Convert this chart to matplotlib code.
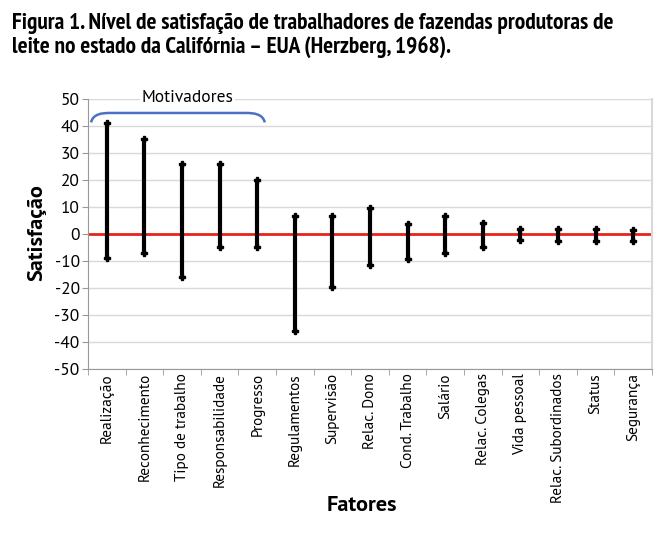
import matplotlib
matplotlib.use("Agg")
import matplotlib.pyplot as plt
from matplotlib import font_manager
from matplotlib.path import Path
from matplotlib.patches import PathPatch

categories = ["Realização", "Reconhecimento", "Tipo de trabalho", "Responsabilidade",
              "Progresso", "Regulamentos", "Supervisão", "Relac. Dono", "Cond. Trabalho",
              "Salário", "Relac. Colegas", "Vida pessoal", "Relac. Subordinados",
              "Status", "Segurança"]
high = [41, 35, 26, 26, 20, 6.5, 6.5, 9.6, 3.6, 6.5, 4, 2, 2, 2, 1.4]
low = [-9, -7, -16, -5, -5, -36, -19.5, -11.4, -9.3, -6.9, -5, -2.4, -2.6, -2.6, -2.6]
yticks = list(range(-50, 51, 10))

available = {f.name for f in font_manager.fontManager.ttflist}

def pick(cands):
    for c in cands:
        if c in available:
            return [c, "DejaVu Sans"]
    return ["DejaVu Sans"]

cond = pick(["PT Sans Narrow", "Open Sans Condensed", "Roboto Condensed", "Fira Sans Condensed",
             "IBM Plex Sans Condensed", "Archivo Narrow", "Asap Condensed", "Encode Sans Condensed",
             "Liberation Sans Narrow"])
body = pick(["PT Sans", "Open Sans", "Lato", "DejaVu Sans"])

fig = plt.figure(figsize=(6.62, 5.37), dpi=100)
ax = fig.add_axes([0.133, 0.3128, 0.852, 0.503])

x = list(range(len(categories)))
ax.vlines(x, low, high, color="black", lw=3, zorder=3)
ax.plot(x, high, ls="none", marker="P", ms=5, color="black", zorder=4)
ax.plot(x, low, ls="none", marker="P", ms=5, color="black", zorder=4)
ax.axhline(0, color="#e8231c", lw=2, zorder=2)

ax.set_xlim(-0.5, len(categories) - 0.5)
ax.set_ylim(-50, 50)
ax.set_yticks(yticks)
ax.set_yticklabels([str(v) for v in yticks], fontsize=12.5, family=body)
ax.set_xticks(x)
ax.set_xticklabels(categories, rotation=90, fontsize=11, family=body)
ax.tick_params(axis="x", length=0, pad=3)
ax.set_xticks([i - 0.5 for i in range(len(categories) + 1)], minor=True)
ax.tick_params(axis="x", which="minor", length=4, color="#999999")
ax.tick_params(axis="y", length=4, color="#999999", pad=2)
ax.grid(axis="y", color="#d9d9d9", lw=1, zorder=0)
for s in ["left", "bottom"]:
    ax.spines[s].set_color("#999999")
ax.spines["right"].set_color("#d9d9d9")
ax.spines["right"].set_linewidth(1.5)
ax.spines["top"].set_visible(False)

ax.set_ylabel("Satisfação", fontsize=16, fontweight="bold", family=body)
ax.yaxis.set_label_coords(-0.074, 0.504)
ax.set_xlabel("Fatores", fontsize=16, fontweight="bold", family=body)
ax.xaxis.set_label_coords(0.486, -0.504)
ax.xaxis.label.set_va("center")

# bracket
x0, x1, yt, ye = -0.42, 4.2, 44.8, 41.3
verts = [(x0, ye), (x0 + 0.05, yt - 0.3), (x0 + 0.3, yt), (x0 + 0.5, yt),
         (x1 - 0.5, yt), (x1 - 0.3, yt), (x1 - 0.05, yt - 0.3), (x1, ye)]
codes = [Path.MOVETO, Path.CURVE4, Path.CURVE4, Path.CURVE4,
         Path.LINETO, Path.CURVE4, Path.CURVE4, Path.CURVE4]
ax.add_patch(PathPatch(Path(verts, codes), fill=False, edgecolor="#4a72c4", lw=1.8,
                       clip_on=False, zorder=5))
ax.text(2.15, 50.5, "Motivadores", ha="center", va="center", fontsize=12.5,
        family=body, bbox=dict(facecolor="white", edgecolor="none", pad=1), zorder=5)

fig.text(0.018, 0.975, "Figura 1. Nível de satisfação de trabalhadores de fazendas produtoras de\n"
         "leite no estado da Califórnia – EUA (Herzberg, 1968).",
         ha="left", va="top", fontsize=16.8, fontweight="bold", family=cond, linespacing=1.1)

fig.savefig("out.png", dpi=100)
